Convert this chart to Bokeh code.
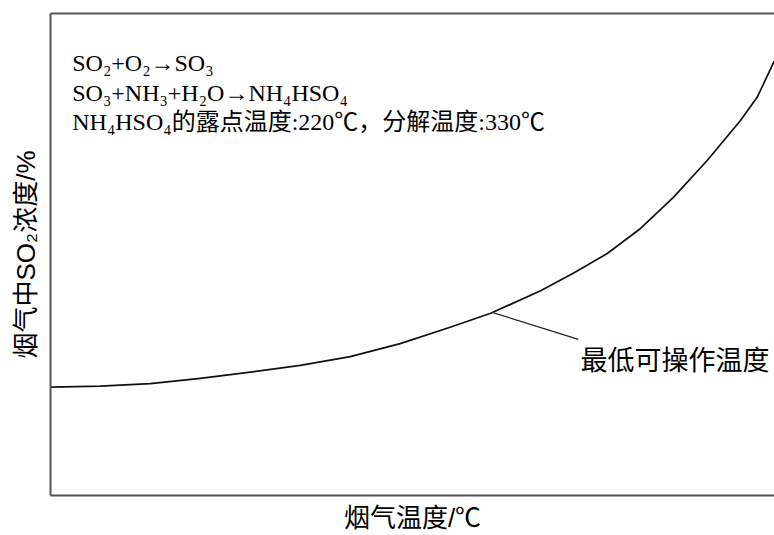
from bokeh.plotting import figure
from bokeh.models import LinearAxis, FixedTicker, Range1d
from bokeh.core.properties import value
from bokeh.embed import file_html
from bokeh.resources import INLINE

# Minimum workable temperature curve (relative units: flue gas temperature vs SO2 concentration)
temp = [0, 6.9, 13.8, 20.7, 27.6, 34.5, 41.4, 48.3, 55.2, 60.8, 67.7, 72.2, 76.9,
        81.5, 86.0, 90.7, 95.3, 97.6, 100]
so2 = [22.5, 22.7, 23.2, 24.3, 25.6, 27.0, 28.8, 31.5, 34.9, 37.8, 42.5, 46.1, 50.2,
       55.4, 61.8, 69.5, 77.8, 82.6, 90.2]

# Leader line from the curve to its label
leader_x = [61.2, 72.9]
leader_y = [37.9, 32.4]
curve_label = "最低可操作温度"

notes = [
    "SO₂+O₂→SO₃",
    "SO₃+NH₃+H₂O→NH₄HSO₄",
    "NH₄HSO₄的露点温度:220℃，分解温度:330℃",
]
notes_y = [89.8, 83.6, 77.4]

x_title = "烟气温度/℃"
y_title = "烟气中SO₂浓度/%"

SANS = "'Liberation Sans', 'Noto Sans CJK SC'"
SERIF = "'Liberation Serif', 'Noto Sans CJK SC'"
FRAME = "#555555"

p = figure(width=774, height=535, output_backend="svg", toolbar_location=None,
           x_range=Range1d(0, 100), y_range=Range1d(0, 100),
           x_axis_location=None, y_axis_location=None,
           min_border_left=50, min_border_right=0, min_border_top=13, min_border_bottom=40)
p.outline_line_color = None
p.grid.visible = False
p.background_fill_color = "white"
p.border_fill_color = "white"


def frame_axis(label=None, standoff=10):
    ax = LinearAxis(ticker=FixedTicker(ticks=[]))
    ax.axis_line_color = FRAME
    ax.axis_line_width = 2
    ax.major_tick_out = 0
    ax.major_tick_in = 0
    ax.minor_tick_out = 0
    ax.minor_tick_in = 0
    ax.major_label_text_font_size = "0px"
    if label:
        ax.axis_label = label
        ax.axis_label_text_font = SANS
        ax.axis_label_text_font_size = "26px"
        ax.axis_label_text_font_style = "normal"
        ax.axis_label_text_color = "black"
        ax.axis_label_standoff = standoff
    return ax


p.add_layout(frame_axis(y_title, 10), "left")
p.add_layout(frame_axis(x_title, 7), "below")
p.add_layout(frame_axis(), "above")

p.line(temp, so2, line_color="#111111", line_width=1.7, line_join="round")
p.line(leader_x, leader_y, line_color="#222222", line_width=1.2)

p.text(x=[73.2], y=[28.0], text=[curve_label], text_font=value(SANS),
       text_font_size="27px", text_baseline="middle", text_align="left", text_color="black")

p.text(x=[3.0] * len(notes), y=notes_y, text=notes, text_font=value(SERIF),
       text_font_size="24px", text_baseline="alphabetic", text_align="left", text_color="black")

open("out.html", "w").write(file_html(p, INLINE))
